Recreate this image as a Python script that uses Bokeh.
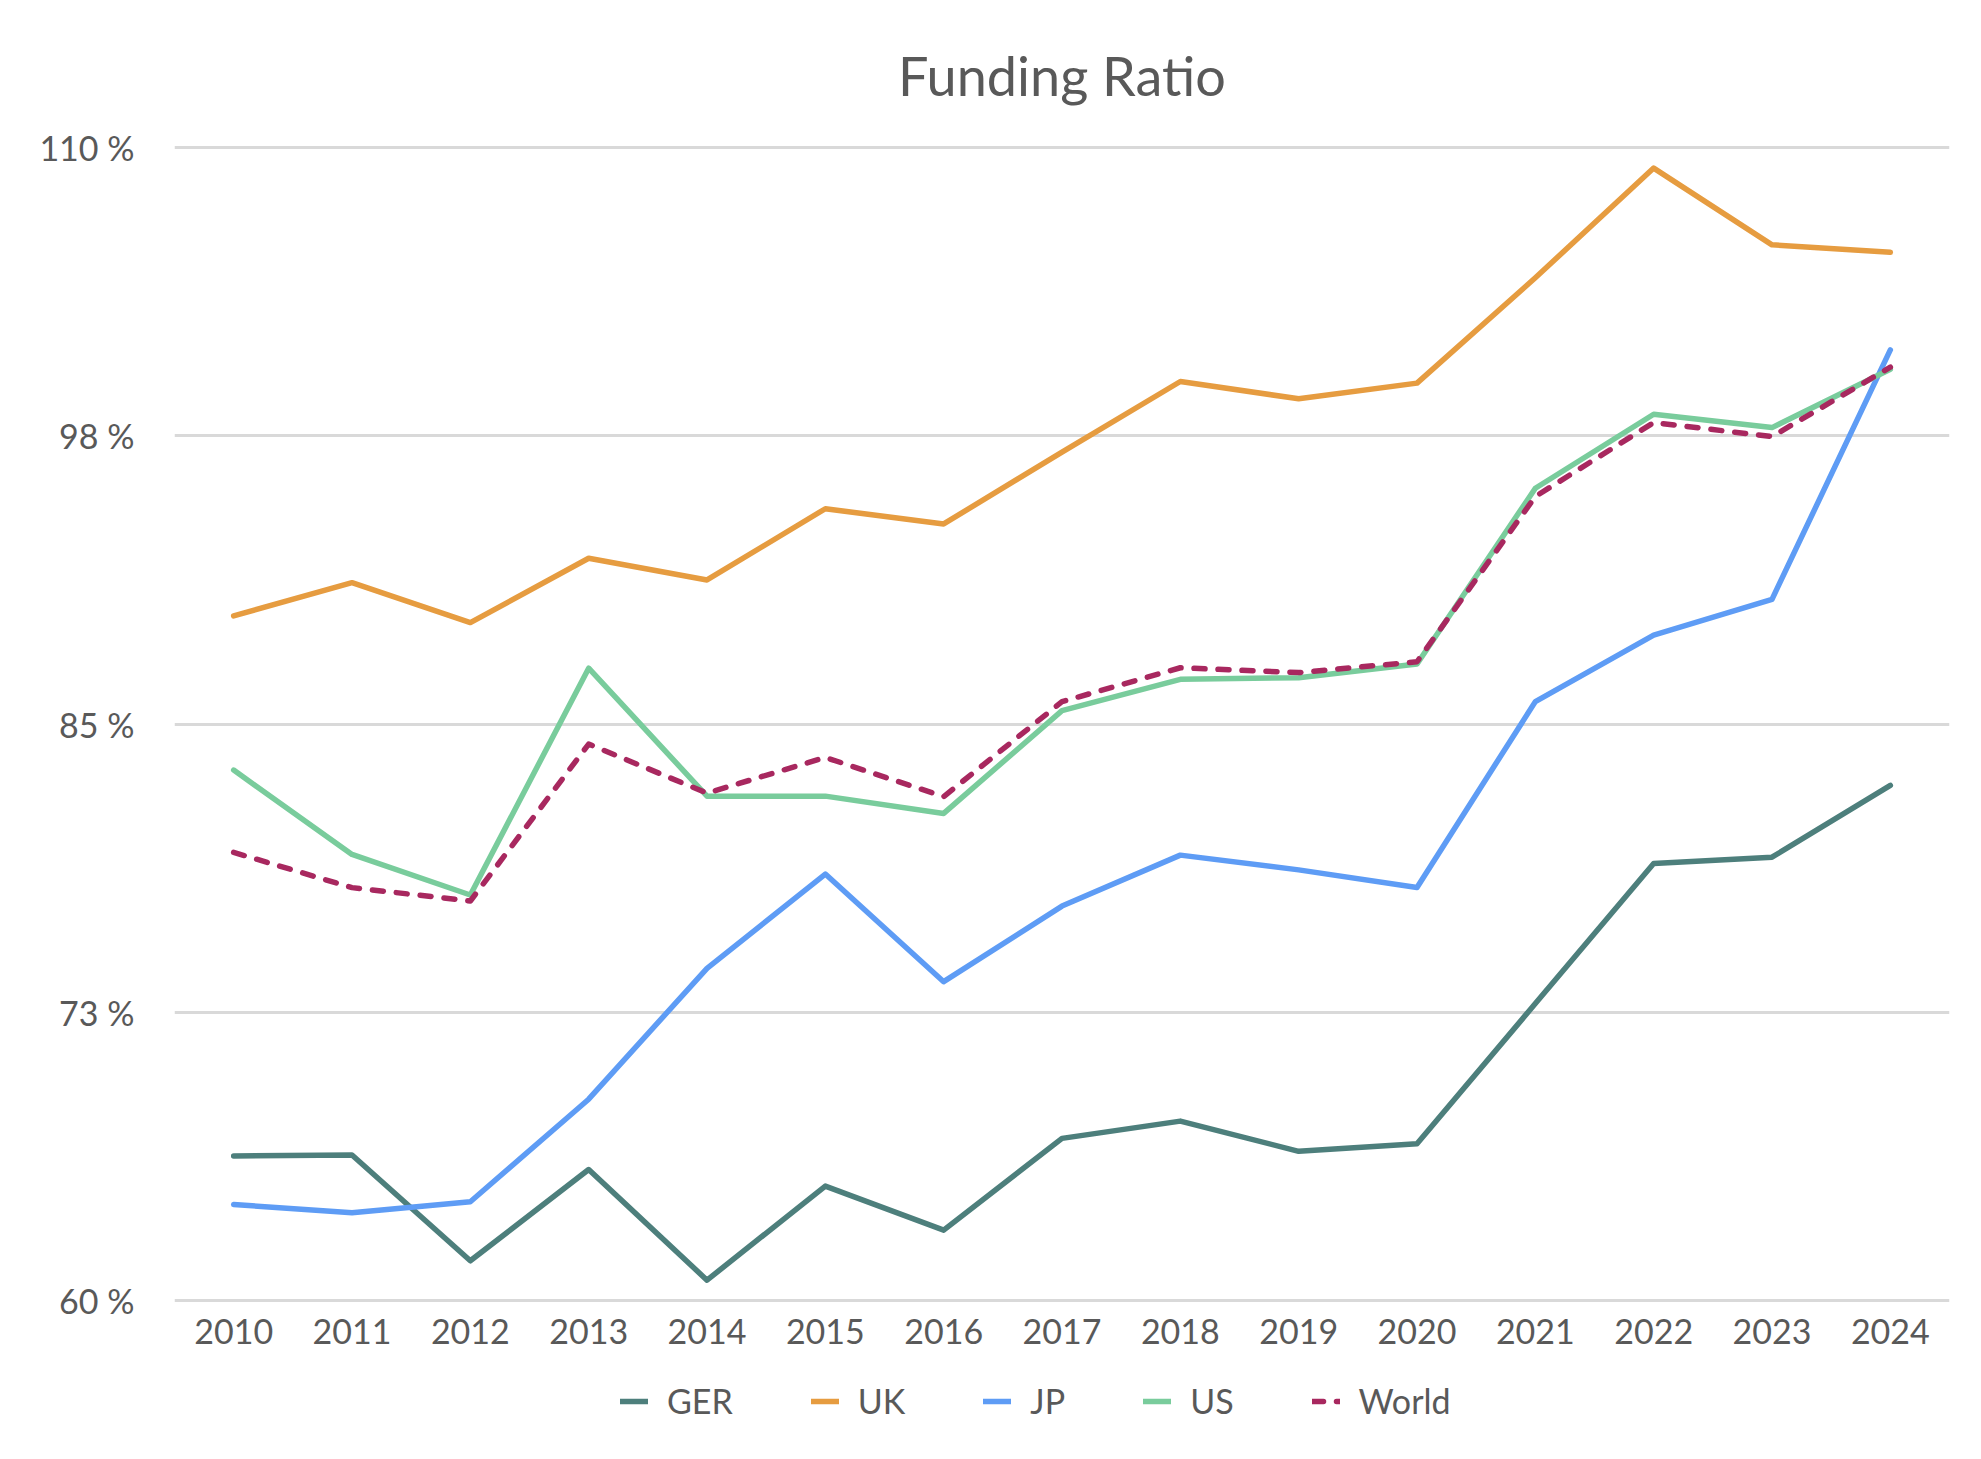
from bokeh.plotting import figure
from bokeh.layouts import column
from bokeh.models import FixedTicker, Range1d, Legend, LegendItem
from bokeh.embed import file_html
from bokeh.resources import INLINE

years = [2010, 2011, 2012, 2013, 2014, 2015, 2016, 2017, 2018, 2019, 2020, 2021, 2022, 2023, 2024]
ger = [66.26, 66.30, 61.71, 65.67, 60.87, 64.95, 63.04, 67.02, 67.77, 66.46, 66.79, 72.87, 78.95, 79.22, 82.34]
uk = [89.69, 91.13, 89.40, 92.19, 91.25, 94.34, 93.68, 96.80, 99.86, 99.11, 99.79, 104.36, 109.12, 105.79, 105.47]
jp = [64.15, 63.79, 64.27, 68.72, 74.40, 78.49, 73.82, 77.10, 79.31, 78.67, 77.91, 85.97, 88.86, 90.41, 101.23]
us = [83.00, 79.34, 77.58, 87.42, 81.87, 81.87, 81.12, 85.58, 86.94, 87.01, 87.60, 95.23, 98.44, 97.86, 100.39]
world = [79.43, 77.90, 77.32, 84.13, 82.00, 83.55, 81.85, 85.97, 87.44, 87.23, 87.70, 94.87, 98.08, 97.47, 100.48]

series_names = ["GER", "UK", "JP", "US", "World"]
series_colors = ["#4d7f7c", "#e69c40", "#5e9cf5", "#79cc9c", "#a8285f"]
y_tick_values = [60, 72.5, 85, 97.5, 110]
y_tick_labels = ["60 %", "73 %", "85 %", "98 %", "110 %"]

FONT = "Lato"
TXT = "#595959"
W = 1965


def style_line(fig, xs, ys, name, col):
    if name == "World":
        return fig.line(xs, ys, line_color=col, line_width=5.5, line_dash="11 13",
                        line_cap="round", line_join="round")
    return fig.line(xs, ys, line_color=col, line_width=5.5, line_join="round", line_cap="round")


p = figure(width=W, height=1362, output_backend="svg", toolbar_location=None,
           x_range=Range1d(2009.5, 2024.5), y_range=Range1d(59.9, 110.1),
           min_border_left=174, min_border_right=16, min_border_top=145, min_border_bottom=60)
p.outline_line_color = None
p.background_fill_color = "white"
p.border_fill_color = "white"

p.title.text = "Funding Ratio"
p.title.align = "center"
p.title.text_font = FONT
p.title.text_font_size = "54px"
p.title.text_font_style = "normal"
p.title.text_color = TXT
p.title.standoff = 76

series = [ger, uk, jp, us, world]
for name, vals, col in zip(series_names, series, series_colors):
    style_line(p, years, vals, name, col)

p.xgrid.grid_line_color = None
p.ygrid.grid_line_color = "#d9d9d9"
p.ygrid.grid_line_width = 3
p.ygrid.ticker = FixedTicker(ticks=y_tick_values)

p.xaxis.ticker = FixedTicker(ticks=years)
p.xaxis.axis_line_color = None
p.xaxis.major_tick_line_color = None
p.xaxis.minor_tick_line_color = None
p.xaxis.major_label_text_font = FONT
p.xaxis.major_label_text_font_size = "34px"
p.xaxis.major_label_text_color = TXT
p.xaxis.major_label_standoff = 10

p.yaxis.ticker = FixedTicker(ticks=y_tick_values)
p.yaxis.major_label_overrides = {v: l for v, l in zip(y_tick_values, y_tick_labels)}
p.yaxis.axis_line_color = None
p.yaxis.major_tick_line_color = None
p.yaxis.minor_tick_line_color = None
p.yaxis.major_label_text_font = FONT
p.yaxis.major_label_text_font_size = "34px"
p.yaxis.major_label_text_color = TXT
p.yaxis.major_label_standoff = 34

# legend strip: a small figure whose frame holds the legend; its line
# renderers carry the same series but lie outside its visible ranges
q = figure(width=W, height=78, output_backend="svg", toolbar_location=None,
           x_axis_type=None, y_axis_type=None, min_border=0,
           x_range=Range1d(0, 1), y_range=Range1d(0, 1))
q.outline_line_color = None
q.xgrid.grid_line_color = None
q.ygrid.grid_line_color = None
legend_renderers = [style_line(q, years, vals, n, c)
                    for n, vals, c in zip(series_names, series, series_colors)]

legend = Legend(items=[LegendItem(label=n, renderers=[r]) for n, r in zip(series_names, legend_renderers)],
                orientation="horizontal", location=(446, 19))
legend.border_line_color = None
legend.background_fill_alpha = 0
legend.label_text_font = FONT
legend.label_text_font_size = "34px"
legend.label_text_color = TXT
legend.glyph_width = 28
legend.glyph_height = 20
legend.label_standoff = 19
legend.spacing = 78
legend.padding = 0
legend.margin = 0
q.add_layout(legend)

layout = column(p, q, spacing=0)
open("out.html", "w").write(file_html(layout, INLINE))
